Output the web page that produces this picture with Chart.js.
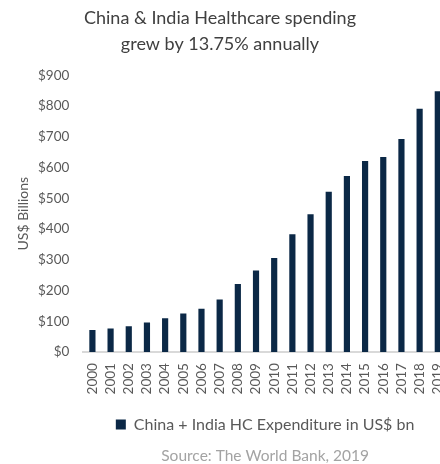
<!DOCTYPE html>
<html>
<head>
<meta charset="utf-8">
<script src="https://cdn.jsdelivr.net/npm/chart.js@4"></script>
<style>
  html, body { margin: 0; padding: 0; background: #ffffff; overflow: hidden; width: 440px; height: 464px; }
  #wrap { position: relative; width: 465px; height: 464px; }
</style>
</head>
<body>
<div id="wrap"><canvas id="c"></canvas></div>
<script>
const years = ["2000","2001","2002","2003","2004","2005","2006","2007","2008","2009","2010","2011","2012","2013","2014","2015","2016","2017","2018","2019"];
const spending = [72,77,84,96,110,125,141,171,221,265,306,383,448,521,572,621,634,693,791,848];
const titleLines = ["China & India Healthcare spending", "grew by 13.75% annually"];
const seriesName = "China + India HC Expenditure in US$ bn";
const sourceText = "Source: The World Bank, 2019";
const yAxisTitle = "US$ Billions";

const FONT = "Lato, 'Open Sans', sans-serif";

new Chart(document.getElementById('c'), {
  type: 'bar',
  data: {
    labels: years,
    datasets: [{
      label: seriesName,
      data: spending,
      backgroundColor: '#0b2846',
      borderWidth: 0,
      categoryPercentage: 1.0,
      barPercentage: 0.34
    }]
  },
  options: {
    responsive: true,
    maintainAspectRatio: false,
    animation: false,
    layout: { padding: { left: -25, right: 0, top: 0, bottom: 0 } },
    scales: {
      x: {
        grid: { display: false, drawTicks: false },
        border: { display: true, color: '#d9d9d9', width: 2 },
        ticks: {
          color: '#595959',
          font: { family: FONT, size: 13.5 },
          maxRotation: 90, minRotation: 90,
          padding: 11,
          autoSkip: false
        }
      },
      y: {
        min: 0, max: 900,
        grid: { display: false, drawTicks: false },
        border: { display: false },
        ticks: {
          stepSize: 100,
          color: '#595959',
          font: { family: FONT, size: 13.5 },
          padding: 14,
          callback: v => '$' + v
        },
        title: {
          display: true,
          text: yAxisTitle,
          color: '#595959',
          font: { family: FONT, size: 14 },
          padding: { top: 39.6, bottom: -7.4 }
        }
      }
    },
    plugins: {
      title: {
        display: true,
        text: titleLines,
        color: '#404040',
        font: { family: FONT, size: 18, weight: 'normal', lineHeight: 1.45 },
        padding: { top: 5, bottom: 18 }
      },
      legend: {
        display: true,
        position: 'bottom',
        fullSize: false,
        labels: {
          color: '#595959',
          font: { family: FONT, size: 16 },
          boxWidth: 10, boxHeight: 10,
          padding: 11
        }
      },
      subtitle: {
        display: true,
        position: 'bottom',
        fullSize: false,
        text: sourceText,
        color: '#a3a3a3',
        font: { family: FONT, size: 15.5 },
        padding: { top: 4, bottom: -1 }
      },
      tooltip: { enabled: false }
    }
  }
});
</script>
</body>
</html>
